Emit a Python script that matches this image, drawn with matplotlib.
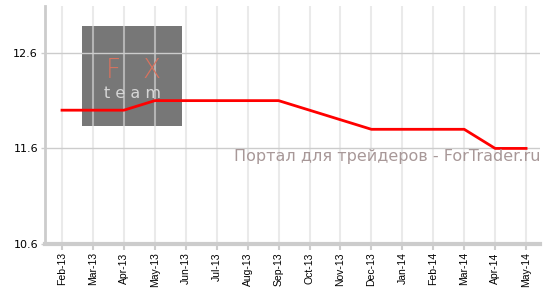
import numpy as np
import matplotlib
matplotlib.use("Agg")
import matplotlib.pyplot as plt
from matplotlib.patches import Rectangle

# monthly values
months = ['Feb-13', 'Mar-13', 'Apr-13', 'May-13', 'Jun-13', 'Jul-13', 'Aug-13', 'Sep-13',
          'Oct-13', 'Nov-13', 'Dec-13', 'Jan-14', 'Feb-14', 'Mar-14', 'Apr-14', 'May-14']
rate = [12.0, 12.0, 12.0, 12.1, 12.1, 12.1, 12.1, 12.1,
        12.0, 11.9, 11.8, 11.8, 11.8, 11.8, 11.6, 11.6]
yticks = [10.6, 11.6, 12.6]

fig = plt.figure(figsize=(5.49, 2.91), dpi=100)
ax = fig.add_axes([45/549, 1 - 244/291, (540 - 45)/549, (244 - 6)/291])

x = np.arange(len(months))

# logo box (placed in figure pixels), under the grid and the line
ax.add_patch(Rectangle((82/549, 1 - 126/291), 100/549, 100/291,
                       transform=fig.transFigure, facecolor='#777777',
                       edgecolor='none', zorder=0.5, clip_on=False))
fig.text(113/549, 1 - 78/291, 'F', color='#d9735f', fontsize=19, ha='center', va='baseline',
         fontweight='light', zorder=3)
fig.text(152/549, 1 - 78/291, 'X', color='#d9735f', fontsize=19, ha='center', va='baseline',
         fontweight='light', zorder=3)
fig.text(132/549, 1 - 98/291, 't e a m', color='#d6d6d6', fontsize=11.5, ha='center', va='baseline',
         zorder=3)

# vertical grid at each month
for xi in x:
    ax.axvline(xi, color='#dddddd', lw=1.5, alpha=0.6, zorder=1)
for yv in yticks[1:]:
    ax.axhline(yv, color='#cccccc', lw=1, zorder=1)

ax.plot(x, rate, color='#ff0000', lw=2, zorder=5)

ax.text(387/549, 1 - 157/291, 'Портал для трейдеров - ForTrader.ru', transform=fig.transFigure,
        color='#a89898', fontsize=11.5, ha='center', va='center', zorder=6)

ax.set_xlim(-0.55, 15.45)
ax.set_ylim(10.6, 13.09)
ax.set_yticks(yticks)
ax.set_yticklabels(['10.6', '11.6', '12.6'], fontsize=8, family='DejaVu Sans')
ax.set_xticks(x)
ax.set_xticklabels(months, rotation=90, fontsize=7.5, family='Liberation Sans')

for s in ['top', 'right']:
    ax.spines[s].set_visible(False)
ax.spines['left'].set_color('#cccccc')
ax.spines['left'].set_linewidth(2)
ax.spines['bottom'].set_color('#cccccc')
ax.spines['bottom'].set_linewidth(3)
ax.tick_params(axis='x', length=4, color='#cccccc', width=1.5, pad=2)
ax.tick_params(axis='y', length=3, color='#cccccc', width=1, pad=2)

fig.savefig('out.png', dpi=100)
